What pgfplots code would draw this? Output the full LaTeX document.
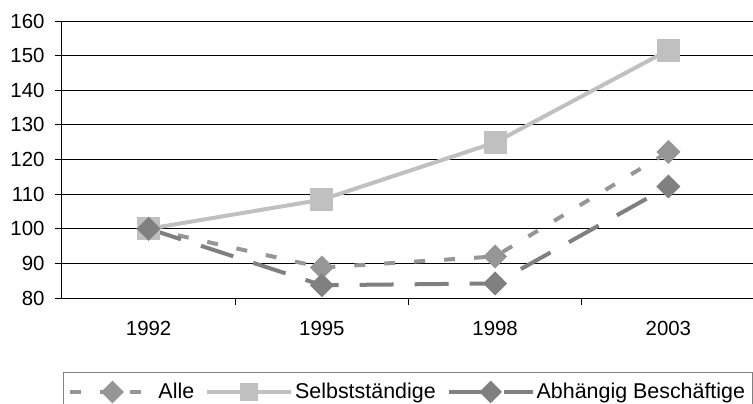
\documentclass[border=0pt]{standalone}
\usepackage{pgfplots}
\pgfplotsset{compat=1.18}
\usepackage{fontspec}
\setmainfont{Liberation Sans}
\definecolor{cAlle}{HTML}{969696}
\definecolor{cSelb}{HTML}{C0C0C0}
\definecolor{cAbh}{HTML}{808080}
\begin{document}
\begin{tikzpicture}[x=1bp,y=1bp]
\begin{axis}[
  at={(0,0)}, anchor=south west,
  scale only axis, width=693bp, height=277bp,
  xmin=-0.5, xmax=3.5, ymin=80, ymax=160,
  ytick={80,90,...,160},
  xtick={0.5,1.5,2.5}, xticklabels={},
  extra x ticks={0,1,2,3},
  extra x tick labels={1992,1995,1998,2003},
  extra x tick style={major tick length=0pt, xticklabel style={yshift=-20bp}},
  axis lines=left,
  axis line style={-, black, line width=1bp},
  ymajorgrids=true,
  major grid style={black, line width=0.8bp},
  tick align=outside,
  major tick length=7bp,
  tick style={black, line width=0.8bp},
  /pgf/number format/assume math mode=true,
  /pgf/number format/1000 sep={},
  tick label style={font=\fontsize{20.5}{24}\selectfont},
  yticklabel style={xshift=-7bp},
  legend columns=-1,
  legend style={at={(0.0014,-0.267)}, anchor=north west,
    draw=cAbh, line width=1bp,
    font=\fontsize{21.5}{25}\selectfont,
    inner xsep=5bp, inner ysep=9bp,
    /tikz/every even column/.append style={column sep=9bp},
    /tikz/every odd column/.append style={column sep=0bp}},
  legend image code/.code={\draw[mark repeat=2,mark phase=2] plot coordinates {(0bp,0bp) (42bp,0bp) (84bp,0bp)};},
]
\addplot[cAlle, line width=4bp, dash pattern=on 11bp off 19bp,
  mark=square*, mark size=6.5bp, mark options={solid, rotate=45, draw=none, fill=cAlle},
  legend image post style={mark size=6bp}]
  coordinates {(0,100) (1,88.8) (2,92) (3,122.2)};
\addlegendentry{Alle}
\addplot[cSelb, line width=4bp,
  mark=square*, mark size=9.5bp, mark options={solid, draw=none, fill=cSelb},
  legend image post style={mark size=7bp}]
  coordinates {(0,100) (1,108.4) (2,124.9) (3,151.6)};
\addlegendentry{Selbstständige}
\addplot[cAbh, line width=4bp, dash pattern=on 34bp off 21bp,
  mark=square*, mark size=6.5bp, mark options={solid, rotate=45, draw=none, fill=cAbh},
  legend image post style={mark size=6bp}]
  coordinates {(0,100) (1,83.7) (2,84.2) (3,112.2)};
\addlegendentry{Abhängig Beschäftige}
\end{axis}
\pgfresetboundingbox
\path[use as bounding box] (-62,-105) rectangle (691,298);
\end{tikzpicture}
\end{document}
